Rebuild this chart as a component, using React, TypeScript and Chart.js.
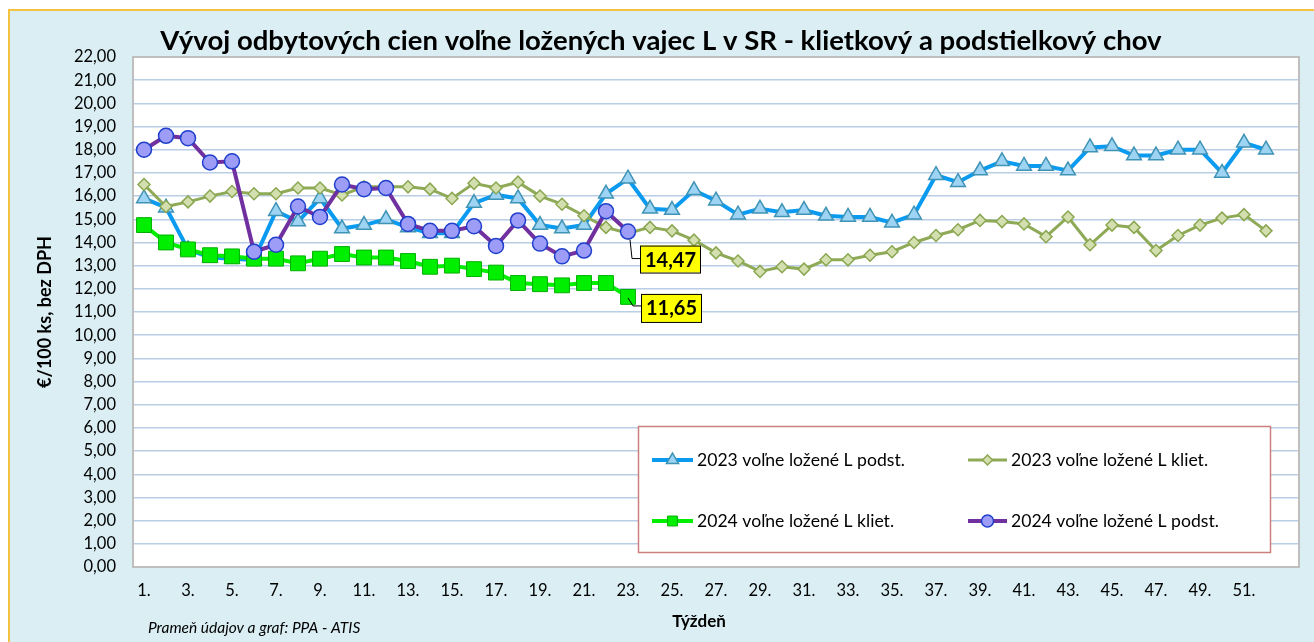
import React, { useEffect, useRef } from "react";
import { Chart, registerables } from "chart.js";

Chart.register(...registerables);

const weeks = [
  "1.", "2.", "3.", "4.", "5.", "6.", "7.", "8.", "9.", "10.",
  "11.", "12.", "13.", "14.", "15.", "16.", "17.", "18.", "19.", "20.",
  "21.", "22.", "23.", "24.", "25.", "26.", "27.", "28.", "29.", "30.",
  "31.", "32.", "33.", "34.", "35.", "36.", "37.", "38.", "39.", "40.",
  "41.", "42.", "43.", "44.", "45.", "46.", "47.", "48.", "49.", "50.",
  "51.", "52.", "",
];

const podst2023 = [
  15.9, 15.5, 13.7, 13.35, 13.3, 13.25, 15.35, 14.9, 15.9, 14.6,
  14.75, 15.0, 14.65, 14.4, 14.4, 15.7, 16.05, 15.9, 14.75, 14.6,
  14.75, 16.1, 16.75, 15.45, 15.4, 16.25, 15.8, 15.2, 15.45, 15.3,
  15.4, 15.15, 15.1, 15.1, 14.85, 15.2, 16.9, 16.6, 17.1, 17.5,
  17.3, 17.3, 17.1, 18.1, 18.15, 17.75, 17.75, 18.0, 18.0, 17.0,
  18.3, 18.0,
];

const kliet2023 = [
  16.5, 15.55, 15.75, 16.0, 16.2, 16.1, 16.1, 16.35, 16.35, 16.05,
  16.4, 16.4, 16.4, 16.3, 15.9, 16.55, 16.35, 16.6, 16.0, 15.65,
  15.15, 14.65, 14.4, 14.65, 14.5, 14.1, 13.55, 13.2, 12.75, 12.95,
  12.85, 13.25, 13.25, 13.45, 13.6, 14.0, 14.3, 14.55, 14.95, 14.9,
  14.8, 14.25, 15.1, 13.9, 14.75, 14.65, 13.65, 14.3, 14.75, 15.05,
  15.2, 14.5,
];

const kliet2024 = [
  14.75, 14.0, 13.7, 13.45, 13.4, 13.3, 13.3, 13.1, 13.3, 13.5,
  13.35, 13.35, 13.2, 12.95, 13.0, 12.85, 12.7, 12.25, 12.2, 12.15,
  12.25, 12.25, 11.65,
];

const podst2024 = [
  18.0, 18.6, 18.5, 17.45, 17.5, 13.6, 13.9, 15.55, 15.1, 16.5,
  16.3, 16.35, 14.8, 14.5, 14.5, 14.7, 13.85, 14.95, 13.95, 13.4,
  13.65, 15.35, 14.47,
];

const seriesNames = [
  "2023 voľne ložené L podst.",
  "2023 voľne ložené L kliet.",
  "2024 voľne ložené L kliet.",
  "2024 voľne ložené L podst.",
];

const titleText = "Vývoj odbytových cien voľne ložených vajec L v SR - klietkový a podstielkový chov";
const yTitle = "€/100 ks, bez DPH";
const xTitle = "Týždeň";
const sourceText = "Prameň údajov a graf: PPA - ATIS";

const FONT = "Lato, 'Open Sans', sans-serif";

const fmt = (v: number) => v.toFixed(2).replace(".", ",");

function drawMarker(ctx: CanvasRenderingContext2D, kind: string, x: number, y: number, r: number, fill: string, stroke: string, lw: number) {
  ctx.save();
  ctx.beginPath();
  if (kind === "triangle") {
    const h = r * 1.5;
    const w = r * Math.sqrt(3);
    ctx.moveTo(x, y - r);
    ctx.lineTo(x + w / 2, y - r + h);
    ctx.lineTo(x - w / 2, y - r + h);
    ctx.closePath();
  } else if (kind === "rectRot") {
    ctx.moveTo(x, y - r);
    ctx.lineTo(x + r, y);
    ctx.lineTo(x, y + r);
    ctx.lineTo(x - r, y);
    ctx.closePath();
  } else if (kind === "rect") {
    const s = r * Math.SQRT1_2;
    ctx.rect(x - s, y - s, 2 * s, 2 * s);
  } else {
    ctx.arc(x, y, r, 0, Math.PI * 2);
  }
  ctx.fillStyle = fill;
  ctx.fill();
  ctx.lineWidth = lw;
  ctx.strokeStyle = stroke;
  ctx.stroke();
  ctx.restore();
}

const styles = [
  { line: "#0A9BF0", lw: 4, kind: "triangle", r: 8.5, fill: "#9DD3F3", stroke: "#3F93B5", bw: 1.5 },
  { line: "#8FAA56", lw: 3, kind: "rectRot", r: 6, fill: "#D3DFAE", stroke: "#8BA752", bw: 1.5 },
  { line: "#00EE00", lw: 4, kind: "rect", r: 10.5, fill: "#00EE00", stroke: "#00B000", bw: 1 },
  { line: "#7030A0", lw: 4, kind: "circle", r: 7.5, fill: "#9D9DF7", stroke: "#1F3FCC", bw: 1.5 },
];

const decorPlugin = {
  id: "decor",
  beforeDraw(chart: any) {
    const { ctx, chartArea: a } = chart;
    ctx.save();
    ctx.fillStyle = "#FFFFFF";
    ctx.fillRect(a.left, a.top, a.right - a.left, a.bottom - a.top);
    ctx.restore();
  },
  beforeDatasetsDraw(chart: any) {
    const { ctx, chartArea: a } = chart;
    ctx.save();
    ctx.strokeStyle = "#BFBFBF";
    ctx.lineWidth = 2;
    ctx.strokeRect(a.left, a.top, a.right - a.left, a.bottom - a.top);
    ctx.restore();
  },
  afterDraw(chart: any) {
    const { ctx } = chart;
    ctx.save();
    // title
    ctx.fillStyle = "#000";
    ctx.font = `bold 27.5px ${FONT}`;
    ctx.textAlign = "center";
    ctx.textBaseline = "middle";
    ctx.fillText(titleText, 661, 41);
    // y title
    ctx.save();
    ctx.translate(45, 312);
    ctx.rotate(-Math.PI / 2);
    ctx.font = `bold 18px ${FONT}`;
    ctx.fillText(yTitle, 0, 0);
    ctx.restore();
    // x title
    ctx.font = `bold 17px ${FONT}`;
    ctx.fillText(xTitle, 699, 622);
    // source
    ctx.font = `italic 15.5px ${FONT}`;
    ctx.textAlign = "left";
    ctx.fillText(sourceText, 148, 628);

    // legend
    ctx.fillStyle = "#FFFFFF";
    ctx.fillRect(638.5, 426.5, 632, 126);
    ctx.strokeStyle = "#C9807E";
    ctx.lineWidth = 1.5;
    ctx.strokeRect(638.5, 426.5, 632, 126);
    const pos = [
      { x1: 652, x2: 693, tx: 697, y: 460 },
      { x1: 968, x2: 1007, tx: 1011, y: 460 },
      { x1: 652, x2: 693, tx: 697, y: 521 },
      { x1: 968, x2: 1007, tx: 1011, y: 521 },
    ];
    const legendMarkR = [7, 5, 7, 6];
    pos.forEach((p, i) => {
      const s = styles[i];
      ctx.strokeStyle = s.line;
      ctx.lineWidth = s.lw;
      ctx.beginPath();
      ctx.moveTo(p.x1, p.y);
      ctx.lineTo(p.x2, p.y);
      ctx.stroke();
      drawMarker(ctx, s.kind, (p.x1 + p.x2) / 2, p.y, legendMarkR[i], s.fill, s.stroke, s.bw);
      ctx.fillStyle = "#000";
      ctx.font = `17.6px ${FONT}`;
      ctx.textAlign = "left";
      ctx.textBaseline = "middle";
      ctx.fillText(seriesNames[i], p.tx, p.y);
    });

    // data labels for last 2024 points
    const labelDefs = [
      { ds: 3, leader: [[2, 8], [4, 27], [12, 27]], box: [12, 14, 60, 27] },
      { ds: 2, leader: [[0, 1], [5, 9], [13, 9]], box: [13, -3, 60, 28] },
    ];
    labelDefs.forEach((d) => {
      const meta = chart.getDatasetMeta(d.ds);
      const values = chart.data.datasets[d.ds].data as number[];
      const idx = values.length - 1;
      const pt = meta.data[idx];
      const px = pt.x;
      const py = pt.y;
      ctx.strokeStyle = "#000";
      ctx.lineWidth = 1;
      ctx.beginPath();
      d.leader.forEach(([dx, dy], k) => {
        if (k === 0) ctx.moveTo(px + dx, py + dy);
        else ctx.lineTo(px + dx, py + dy);
      });
      ctx.stroke();
      const [bx, by, bw, bh] = d.box;
      ctx.fillStyle = "#FFFF00";
      ctx.fillRect(px + bx, py + by, bw, bh);
      ctx.strokeRect(px + bx + 0.5, py + by + 0.5, bw, bh);
      ctx.fillStyle = "#000";
      ctx.font = `bold 20px ${FONT}`;
      ctx.textAlign = "center";
      ctx.textBaseline = "middle";
      ctx.fillText(fmt(values[idx]), px + bx + bw / 2 + 0.5, py + by + bh / 2 + 1);
    });
    ctx.restore();
  },
};

export default function App() {
  const ref = useRef<HTMLCanvasElement | null>(null);

  useEffect(() => {
    if (!ref.current) return;
    const mk = (i: number, data: number[], order: number) => ({
      label: seriesNames[i],
      data,
      borderColor: styles[i].line,
      borderWidth: styles[i].lw,
      backgroundColor: styles[i].fill,
      pointStyle: styles[i].kind,
      pointRadius: styles[i].r,
      pointHoverRadius: styles[i].r,
      pointBackgroundColor: styles[i].fill,
      pointBorderColor: styles[i].stroke,
      pointBorderWidth: styles[i].bw,
      tension: 0,
      fill: false,
      order,
    });
    const chart = new Chart(ref.current, {
      type: "line",
      data: {
        labels: weeks,
        datasets: [
          mk(0, podst2023, 4),
          mk(1, kliet2023, 3),
          mk(2, kliet2024, 2),
          mk(3, podst2024, 1),
        ],
      },
      options: {
        responsive: false,
        animation: false,
        devicePixelRatio: 1,
        layout: { padding: { top: 57, right: 15, left: 0, bottom: 0 } },
        plugins: {
          legend: { display: false },
          tooltip: { enabled: false },
          title: { display: false },
        },
        scales: {
          x: {
            type: "category",
            offset: true,
            grid: { display: false, drawTicks: false },
            border: { display: false },
            afterFit: (s: any) => {
              s.height = 75;
            },
            ticks: {
              autoSkip: false,
              maxRotation: 0,
              minRotation: 0,
              padding: 14,
              color: "#000",
              font: { family: FONT, size: 16.5 },
              callback: (_v: any, i: number) => (i % 2 === 0 ? weeks[i] : ""),
            },
          },
          y: {
            min: 0,
            max: 22,
            grid: { color: "#B9CDE5", lineWidth: 1.5, drawTicks: false },
            border: { display: false },
            afterFit: (s: any) => {
              s.width = 133;
            },
            ticks: {
              stepSize: 1,
              padding: 17,
              color: "#000",
              font: { family: FONT, size: 16.5 },
              callback: (v: any) => fmt(Number(v)),
            },
          },
        },
      },
      plugins: [decorPlugin],
    });
    return () => chart.destroy();
  }, []);

  return (
    <div style={{ position: "fixed", left: 0, top: 0, width: 1314, height: 642, background: "#FFFFFF", overflow: "hidden" }}>
      <div
        style={{
          position: "absolute",
          left: 8,
          top: 9,
          width: 1306,
          height: 633,
          background: "#DAEEF3",
          borderTop: "2px solid #F5C342",
          borderLeft: "2px solid #F5C342",
          boxSizing: "border-box",
        }}
      />
      <canvas ref={ref} width={1314} height={642} style={{ position: "absolute", left: 0, top: 0, width: 1314, height: 642 }} />
    </div>
  );
}
